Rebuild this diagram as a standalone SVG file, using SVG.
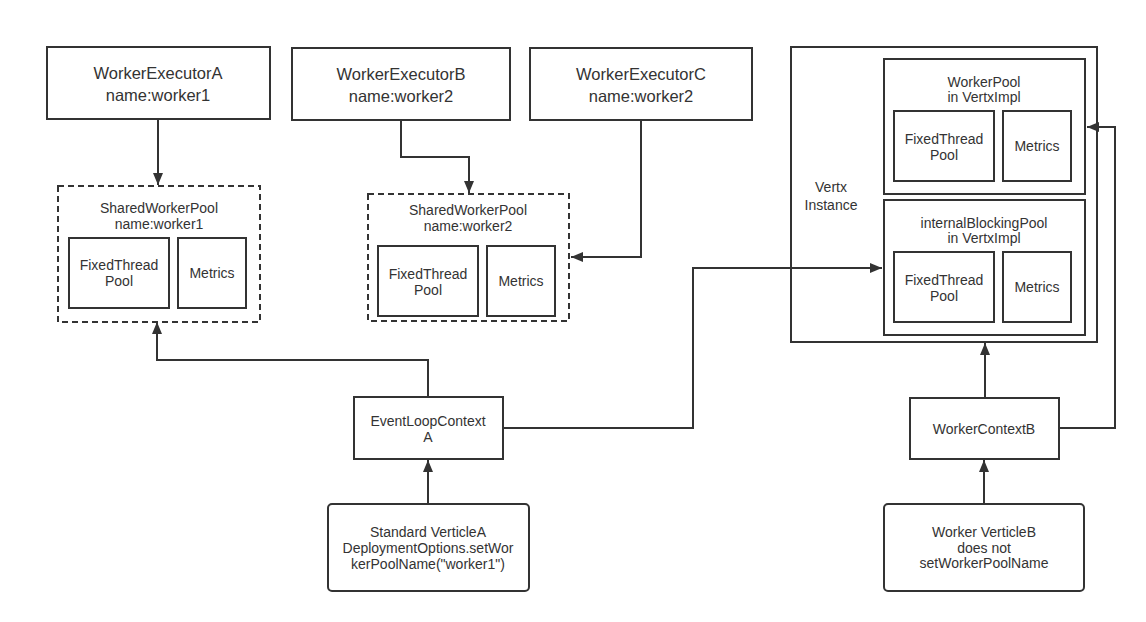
<svg xmlns="http://www.w3.org/2000/svg" width="1146" height="622" viewBox="0 0 1146 622">
<defs>
<style>
.box{fill:#fff;stroke:#333;stroke-width:2}
.dash{fill:#fff;stroke:#333;stroke-width:2;stroke-dasharray:6 4}
.big{font-family:"Liberation Sans",Arial,sans-serif;font-size:16.5px;fill:#333;text-anchor:middle}
.sm{font-family:"Liberation Sans",Arial,sans-serif;font-size:14px;fill:#333;text-anchor:middle}
.edge{fill:none;stroke:#333;stroke-width:2}
</style>
<marker id="arr" viewBox="0 0 12 10" refX="12" refY="5" markerWidth="12" markerHeight="10" markerUnits="userSpaceOnUse" orient="auto">
<path d="M0,0 L12,5 L0,10 Z" fill="#333"/>
</marker>
</defs>
<rect width="1146" height="622" fill="#fff"/>

<g id="executorA">
<rect class="box" x="47" y="47" width="223" height="72"/>
<text class="big" x="158" y="79">WorkerExecutorA</text>
<text class="big" x="158" y="101">name:worker1</text>
</g>
<g id="executorB">
<rect class="box" x="292" y="48" width="218" height="72"/>
<text class="big" x="401" y="80">WorkerExecutorB</text>
<text class="big" x="401" y="102">name:worker2</text>
</g>
<g id="executorC">
<rect class="box" x="530" y="48" width="222" height="72"/>
<text class="big" x="641" y="80">WorkerExecutorC</text>
<text class="big" x="641" y="102">name:worker2</text>
</g>

<g id="sharedPool1">
<rect class="dash" x="58" y="186" width="202" height="136"/>
<text class="sm" x="159" y="213">SharedWorkerPool</text>
<text class="sm" x="159" y="229">name:worker1</text>
<rect class="box" x="69" y="238" width="100" height="70"/>
<text class="sm" x="119" y="270">FixedThread</text>
<text class="sm" x="119" y="286">Pool</text>
<rect class="box" x="178" y="238" width="68" height="70"/>
<text class="sm" x="212" y="278">Metrics</text>
</g>

<g id="sharedPool2">
<rect class="dash" x="368" y="194" width="201" height="127"/>
<text class="sm" x="468" y="215">SharedWorkerPool</text>
<text class="sm" x="468" y="231">name:worker2</text>
<rect class="box" x="378" y="246" width="100" height="70"/>
<text class="sm" x="428" y="279">FixedThread</text>
<text class="sm" x="428" y="295">Pool</text>
<rect class="box" x="487" y="246" width="68" height="70"/>
<text class="sm" x="521" y="286">Metrics</text>
</g>

<g id="vertx">
<rect class="box" x="791" y="47" width="306" height="295"/>
<text class="sm" x="831" y="192">Vertx</text>
<text class="sm" x="831" y="210">Instance</text>
</g>
<g id="workerPool">
<rect class="box" x="884" y="59" width="201" height="135"/>
<text class="sm" x="984" y="87">WorkerPool</text>
<text class="sm" x="984" y="102">in VertxImpl</text>
<rect class="box" x="894" y="111" width="100" height="70"/>
<text class="sm" x="944" y="144">FixedThread</text>
<text class="sm" x="944" y="160">Pool</text>
<rect class="box" x="1003" y="111" width="68" height="70"/>
<text class="sm" x="1037" y="151">Metrics</text>
</g>
<g id="internalBlockingPool">
<rect class="box" x="884" y="200" width="201" height="135"/>
<text class="sm" x="984" y="228">internalBlockingPool</text>
<text class="sm" x="984" y="243">in VertxImpl</text>
<rect class="box" x="894" y="252" width="100" height="70"/>
<text class="sm" x="944" y="285">FixedThread</text>
<text class="sm" x="944" y="301">Pool</text>
<rect class="box" x="1003" y="252" width="68" height="70"/>
<text class="sm" x="1037" y="292">Metrics</text>
</g>

<g id="eventLoopContextA">
<rect class="box" x="354" y="397" width="149" height="62"/>
<text class="sm" x="428" y="426">EventLoopContext</text>
<text class="sm" x="428" y="442">A</text>
</g>
<g id="workerContextB">
<rect class="box" x="910" y="398" width="149" height="61"/>
<text class="sm" x="984" y="434">WorkerContextB</text>
</g>
<g id="verticleA">
<rect class="box" x="328" y="504" width="201" height="87" rx="4"/>
<text class="sm" x="428" y="537">Standard VerticleA</text>
<text class="sm" x="428" y="553">DeploymentOptions.setWor</text>
<text class="sm" x="428" y="569">kerPoolName("worker1")</text>
</g>
<g id="verticleB">
<rect class="box" x="884" y="504" width="200" height="87" rx="4"/>
<text class="sm" x="984" y="537">Worker VerticleB</text>
<text class="sm" x="984" y="553">does not</text>
<text class="sm" x="984" y="568">setWorkerPoolName</text>
</g>

<g id="connectors">
<path class="edge" d="M158,119 V185" marker-end="url(#arr)"/>
<path class="edge" d="M401,120 V157 H469 V193" marker-end="url(#arr)"/>
<path class="edge" d="M641,120 V257 H571" marker-end="url(#arr)"/>
<path class="edge" d="M428,397 V360 H157 V322" marker-end="url(#arr)"/>
<path class="edge" d="M428,504 V460" marker-end="url(#arr)"/>
<path class="edge" d="M503,428 H693 V268 H882" marker-end="url(#arr)"/>
<path class="edge" d="M985,398 V343" marker-end="url(#arr)"/>
<path class="edge" d="M984,504 V460" marker-end="url(#arr)"/>
<path class="edge" d="M1059,428 H1115 V127 H1087" marker-end="url(#arr)"/>
</g>
</svg>
